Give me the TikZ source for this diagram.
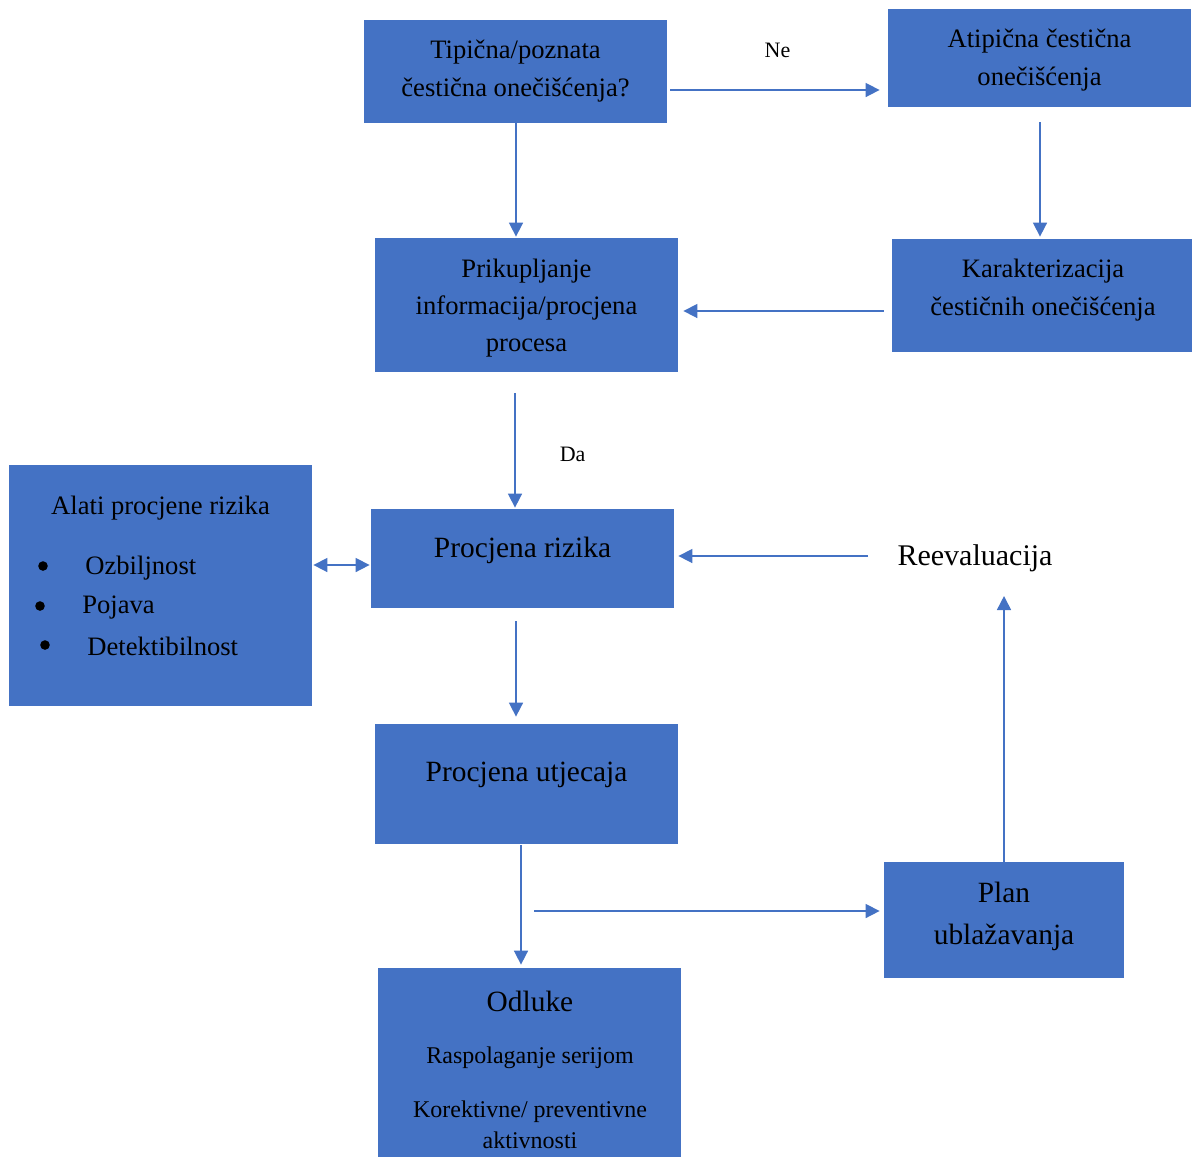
\documentclass[tikz,border=0pt]{standalone}
\usepackage{fontspec}
\setmainfont{Liberation Serif}
\usetikzlibrary{arrows.meta,calc}
\definecolor{boxblue}{HTML}{4472C4}
\begin{document}
\begin{tikzpicture}[x=0.5pt,y=-0.5pt,
  box/.style={draw=none,fill=boxblue,rectangle,inner sep=0pt},
  txt/.style={align=center,text=black,inner sep=0pt,font=\fontsize{13.3}{18.6}\selectfont},
  big/.style={align=center,text=black,inner sep=0pt,font=\fontsize{14.7}{21}\selectfont},
  small/.style={align=center,text=black,inner sep=0pt,font=\fontsize{12}{15.5}\selectfont},
  lbl/.style={text=black,inner sep=0pt,font=\fontsize{11}{13}\selectfont},
  conn/.style={draw=boxblue,line width=0.8pt,-{Triangle[length=7pt,width=7pt]}},
  bul/.style={circle,fill=black,inner sep=0pt,minimum size=4.8pt}
]
\useasboundingbox (0,0) rectangle (1192,1158);
% boxes
\node[box,minimum width=151.5pt,minimum height=51.5pt] (b1) at (515.5,71.5) {};
\node[box,minimum width=151.5pt,minimum height=49pt] (b2) at (1039.5,58) {};
\node[box,minimum width=151.5pt,minimum height=67pt] (b3) at (526.5,305) {};
\node[box,minimum width=150pt,minimum height=56.5pt] (b4) at (1042,295.5) {};
\node[box,minimum width=151.5pt,minimum height=120.5pt] (b5) at (160.5,585.5) {};
\node[box,minimum width=151.5pt,minimum height=49.5pt] (b6) at (522.5,558.5) {};
\node[box,minimum width=151.5pt,minimum height=60pt] (b7) at (526.5,784) {};
\node[box,minimum width=120pt,minimum height=58pt] (b8) at (1004,920) {};
\node[box,minimum width=151.5pt,minimum height=94.5pt] (b9) at (529.5,1062.5) {};
% texts
\node[txt] (t1) at (515.5,71) {Tipična/poznata\\čestična onečišćenja?};
\node[txt] (t2) at (1039.5,60) {Atipična čestična\\onečišćenja};
\node[txt] (t3) at (526.5,308) {Prikupljanje\\informacija/procjena\\procesa};
\node[txt] (t4) at (1043,290) {Karakterizacija\\čestičnih onečišćenja};
\node[txt] (t5) at (160.5,508) {Alati procjene rizika};
\node[bul] (d1) at (43,566) {};
\node[bul] (d2) at (40,606) {};
\node[bul] (d3) at (45,645) {};
\node[txt,anchor=west] (i1) at (85,568) {Ozbiljnost};
\node[txt,anchor=west] (i2) at (82,608) {Pojava};
\node[txt,anchor=west] (i3) at (87,646) {Detektibilnost};
\node[big] (t6) at (522.5,550) {Procjena rizika};
\node[big] (t7) at (526.5,775) {Procjena utjecaja};
\node[big] (t8) at (1004,916) {Plan\\ublažavanja};
\node[big] (t9) at (530,1001) {Odluke};
\node[small] (t10) at (530,1058) {Raspolaganje serijom};
\node[small] (t11) at (530,1125) {Korektivne/ preventivne\\aktivnosti};
\node[big,font=\fontsize{15}{18}\selectfont] (r) at (975,558) {Reevaluacija};
% connectors
\draw[conn,shorten <=1.5pt,shorten >=4pt] ([yshift=-9.25pt]b1.east) -- ([yshift=-9.25pt]b1.east -| b2.west) node[lbl,pos=0.5,above=15.5pt] (ne) {Ne};
\draw[conn,shorten >=0.5pt] ([xshift=0.25pt]b1.south) -- ([xshift=0.25pt]b1.south |- b3.north);
\draw[conn,shorten <=7.5pt,shorten >=1pt] ([xshift=0.25pt]b2.south) -- ([xshift=0.25pt]b2.south |- b4.north);
\draw[conn,shorten <=4pt,shorten >=2.5pt] ([yshift=-7.75pt]b4.west) -- ([yshift=-7.75pt]b4.west -| b3.east);
\draw[conn,shorten <=10.5pt,shorten >=0.5pt] ([xshift=-5.75pt]b3.south) -- ([xshift=-5.75pt]b3.south |- b6.north) node[lbl,pos=0.6,right=22pt] (da) {Da};
\draw[conn,{Triangle[length=7pt,width=7pt]}-{Triangle[length=7pt,width=7pt]},shorten <=0.5pt,shorten >=0.5pt] ([yshift=-3.25pt]b6.west -| b5.east) -- ([yshift=-3.25pt]b6.west);
\draw[conn,shorten <=14.5pt,shorten >=2pt] ([yshift=1pt]r.west) -- ([yshift=1pt]r.west -| b6.east);
\draw[conn,shorten <=6.5pt,shorten >=3.5pt] ([xshift=-3.25pt]b6.south) -- ([xshift=-3.25pt]b6.south |- b7.north);
\draw[conn,shorten <=0.5pt,shorten >=1.5pt] ([xshift=-2.75pt]b7.south) -- ([xshift=-2.75pt]b7.south |- b9.north);
\coordinate (br) at (534,911);
\draw[conn,shorten >=2pt] (br) -- (br -| b8.west);
\draw[conn,shorten >=12pt] (b8.north) -- (b8.north |- r.south);
\end{tikzpicture}
\end{document}
